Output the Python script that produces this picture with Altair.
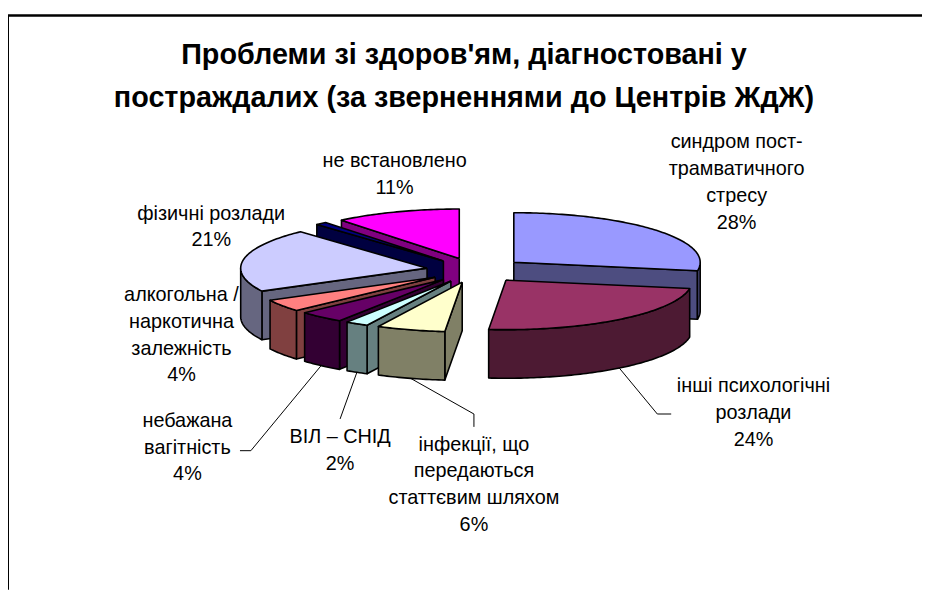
import math
import altair as alt
import pandas as pd

# ---------------- data ----------------
title_lines = ["Проблеми зі здоров'ям, діагностовані у",
               "постраждалих (за зверненнями до Центрів ЖдЖ)"]
categories = ["синдром пост-трамватичного стресу", "інші психологічні розлади",
              "інфекції, що передаються статтєвим шляхом", "ВІЛ – СНІД",
              "небажана вагітність", "алкогольна / наркотична залежність",
              "фізичні розлади", "інше", "не встановлено"]
values = [28, 24, 6, 2, 4, 4, 21, 1, 11]
label_lines = [["синдром пост-", "трамватичного", "стресу", "28%"],
               ["інші психологічні", "розлади", "24%"],
               ["інфекції, що", "передаються", "статтєвим шляхом", "6%"],
               ["ВІЛ – СНІД", "2%"],
               ["небажана", "вагітність", "4%"],
               ["алкогольна /", "наркотична", "залежність", "4%"],
               ["фізичні розлади", "21%"],
               [],
               ["не встановлено", "11%"]]
top_colors = ["#9999FF", "#993366", "#FFFFCC", "#CCFFFF", "#660066",
              "#FF8080", "#CCCCFF", "#000080", "#FF00FF"]
side_colors = ["#4D4D80", "#4D1A33", "#808066", "#668080", "#330033",
               "#804040", "#666680", "#000040", "#800080"]

# ---------------- layout (positions only) ----------------
W, H = 922, 579
CX, CY = 472, 257          # pie centre
RX, RY, DEPTH = 188, 50, 49
EX, EY = 50, 12.5          # explosion offset
label_pos = [(735, 128), (752, 374), (470, 433), (335, 425), (181, 409),
             (175, 282), (205, 200), None, (390, 147)]
LINE_H = 27
leader_pts = {1: [(655, 402), (669, 402)],
              2: [(470, 402), (470, 415)],
              3: [(335, 407)],
              4: [(245, 439), (234, 439)]}
title_pos = (460, 40)
TITLE_LH = 43

# ---------------- geometry from values ----------------
total = float(sum(values))
starts, ends = [], []
acc = 0.0
for v in values:
    starts.append(acc / total * 360.0)
    acc += v
    ends.append(acc / total * 360.0)
mids = [(a + b) / 2 for a, b in zip(starts, ends)]
offs = [(EX * math.sin(math.radians(m)), -EY * math.cos(math.radians(m))) for m in mids]


def pt(theta, off, h):
    t = math.radians(theta)
    return (CX + off[0] + RX * math.sin(t), CY + off[1] - RY * math.cos(t) + h)


def arc_angles(a, b):
    n = max(2, int(math.ceil((b - a) / 1.0)) + 1)
    return [a + (b - a) * k / (n - 1) for k in range(n)]


draw_order = sorted(range(len(values)), key=lambda i: -math.cos(math.radians(mids[i])))
polys = []
for i in draw_order:
    a0, a1, off = starts[i], ends[i], offs[i]
    apex_t = (CX + off[0], CY + off[1])
    apex_b = (apex_t[0], apex_t[1] + DEPTH)
    if math.cos(math.radians(a0 - 90)) < -1e-6:
        polys.append(([apex_t, pt(a0, off, 0), pt(a0, off, DEPTH), apex_b], side_colors[i]))
    if math.cos(math.radians(a1 + 90)) < -1e-6:
        polys.append(([apex_t, pt(a1, off, 0), pt(a1, off, DEPTH), apex_b], side_colors[i]))
    b0, b1 = max(a0, 90.0), min(a1, 270.0)
    if b1 > b0:
        arc = arc_angles(b0, b1)
        pts = [pt(a, off, 0) for a in arc] + [pt(a, off, DEPTH) for a in reversed(arc)]
        polys.append((pts, side_colors[i]))
    arc = arc_angles(a0, a1)
    polys.append(([apex_t] + [pt(a, off, 0) for a in arc], top_colors[i]))

rows = []
for pid, (pts, col) in enumerate(polys):
    pts = pts + [pts[0]]
    for k, (x, y) in enumerate(pts):
        rows.append({"pid": pid, "ord": k, "x": x, "y": y})
poly_df = pd.DataFrame(rows)

xs = alt.X("x:Q", scale=alt.Scale(domain=[0, W]), axis=None)
ys = alt.Y("y:Q", scale=alt.Scale(domain=[H, 0]), axis=None)

layers = []
for pid, (pts, col) in enumerate(polys):
    layers.append(
        alt.Chart(poly_df).transform_filter(alt.datum.pid == pid)
        .mark_line(fill=col, stroke="black", strokeWidth=1.6, strokeJoin="round")
        .encode(x=xs, y=ys, order=alt.Order("ord:Q"))
    )

# leader lines
lrows = []
for i, extra in leader_pts.items():
    start = pt(mids[i], offs[i], DEPTH)
    for k, (x, y) in enumerate([start] + extra):
        lrows.append({"lid": i, "ord": k, "x": x, "y": y})
leader_df = pd.DataFrame(lrows)
layers.append(
    alt.Chart(leader_df).mark_line(color="black", strokeWidth=1)
    .encode(x=xs, y=ys, detail="lid:N", order=alt.Order("ord:Q"))
)

# labels
trows = []
for i, lines in enumerate(label_lines):
    if not lines or label_pos[i] is None:
        continue
    x0, y0 = label_pos[i]
    for k, t in enumerate(lines):
        trows.append({"x": x0, "y": y0 + k * LINE_H, "text": t})
text_df = pd.DataFrame(trows)
layers.append(
    alt.Chart(text_df).mark_text(font="Liberation Sans", fontSize=20, color="black",
                                 align="center", baseline="middle")
    .encode(x=xs, y=ys, text="text:N")
)

ttl_df = pd.DataFrame([{"x": title_pos[0], "y": title_pos[1] + k * TITLE_LH, "text": t}
                       for k, t in enumerate(title_lines)])
layers.append(
    alt.Chart(ttl_df).mark_text(font="Liberation Sans", fontSize=29, fontWeight="bold",
                                color="black", align="center", baseline="middle")
    .encode(x=xs, y=ys, text="text:N")
)

# frame (left and top edges)
layers.append(alt.Chart(ttl_df).mark_rule(color="black", strokeWidth=2)
              .encode(x=alt.value(0), y=alt.value(0), y2=alt.value(H)))
layers.append(alt.Chart(ttl_df).mark_rule(color="black", strokeWidth=2)
              .encode(x=alt.value(0), x2=alt.value(W), y=alt.value(0)))

chart = alt.layer(*layers).properties(
    width=W, height=H,
    padding={"left": 0, "top": 5, "right": 0, "bottom": 0},
    autosize=alt.AutoSizeParams(type="none"),
).configure_view(stroke=None)

chart.save("out.html", embed_options={"renderer": "svg", "actions": False})
